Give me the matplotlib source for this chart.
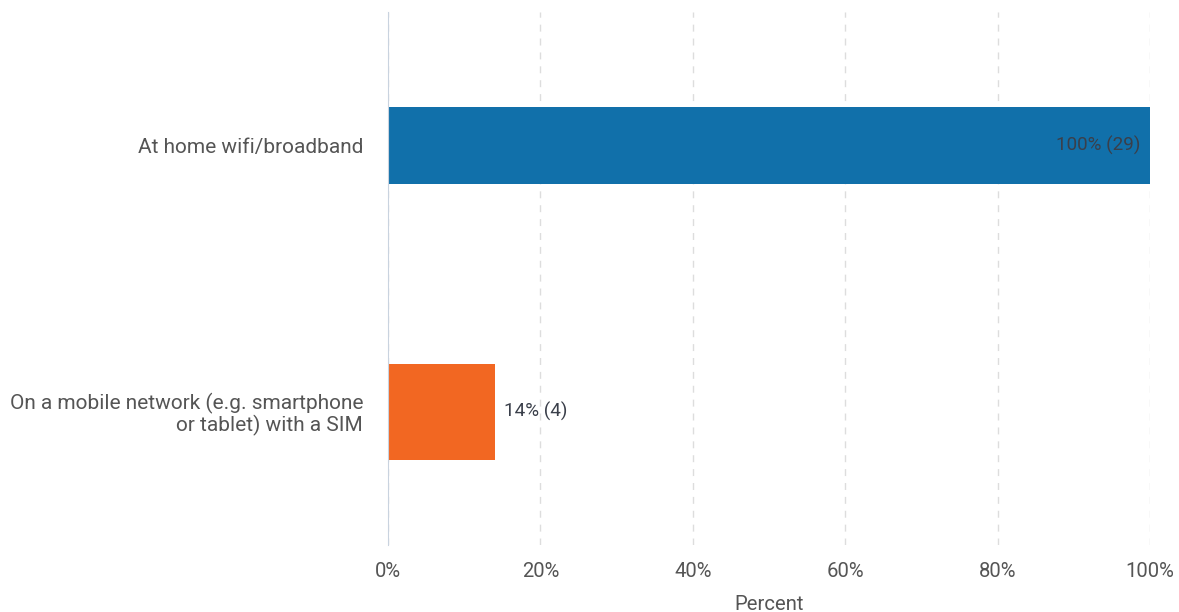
import matplotlib.pyplot as plt
from matplotlib.ticker import FuncFormatter

categories = ["At home wifi/broadband",
              "On a mobile network (e.g. smartphone\nor tablet) with a SIM"]
percents = [100, 14]
counts = [29, 4]
colors = ["#1170aa", "#f26722"]
bar_heights = [0.29, 0.36]

plt.rcParams["font.family"] = ["Roboto", "DejaVu Sans"]

fig = plt.figure(figsize=(11.79, 6.12), dpi=100)
ax = fig.add_axes([388 / 1179, 67 / 612, 762 / 1179, 533 / 612])

ypos = list(range(len(categories)))
ax.barh(ypos, percents, height=bar_heights, color=colors, zorder=3)

for y, p, n in zip(ypos, percents, counts):
    label = f"{p}% ({n})"
    if p > 50:
        ax.text(p - 1.2, y, label, ha="right", va="center",
                fontsize=13.6, color="#3a3f4a", zorder=4)
    else:
        ax.text(p + 1.2, y, label, ha="left", va="center",
                fontsize=13.6, color="#3a3f4a", zorder=4)

ax.set_xlim(0, 100)
ax.set_ylim(1.5, -0.5)
ax.set_xticks([0, 20, 40, 60, 80, 100])
ax.xaxis.set_major_formatter(FuncFormatter(lambda v, _: f"{v:.0f}%"))
ax.set_yticks(ypos)
ax.set_yticklabels(categories, fontsize=15, color="#555555", ha="right",
                   linespacing=1.05)
ax.tick_params(axis="x", labelsize=14.6, labelcolor="#555555", length=0, pad=12)
ax.tick_params(axis="y", length=0, pad=18)

ax.grid(axis="x", color="#dddddd", linestyle=(0, (5, 5)), linewidth=1, zorder=0)
for side in ["top", "right", "bottom"]:
    ax.spines[side].set_visible(False)
ax.spines["left"].set_color("#c9d3df")
ax.spines["left"].set_zorder(5)

ax.set_xlabel("Percent", fontsize=14.6, color="#555555", labelpad=10.5)

fig.savefig("out.png", dpi=100)
